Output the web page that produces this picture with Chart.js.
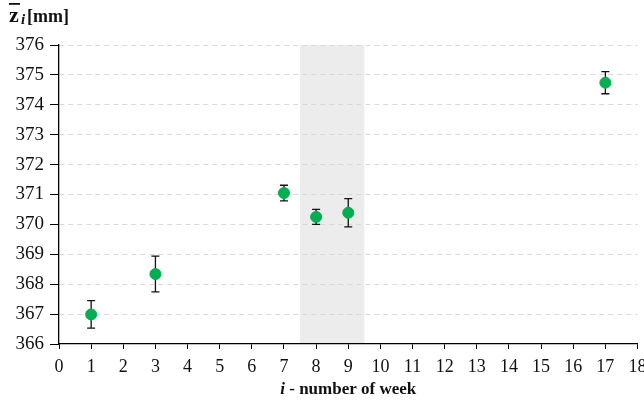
<!DOCTYPE html>
<html>
<head>
<meta charset="utf-8">
<script src="https://cdn.jsdelivr.net/npm/chart.js@4"></script>
<style>
  html, body { margin: 0; padding: 0; background: #fff; }
  #wrap { width: 644px; height: 401px; }
</style>
</head>
<body>
<div id="wrap"><canvas id="zchart" width="644" height="401"></canvas></div>
<script>
// week number and mean value with its error
var weeks = [1, 3, 7, 8, 9, 17];
var means = [366.99, 368.34, 371.05, 370.25, 370.39, 374.74];
var errors = [0.46, 0.60, 0.26, 0.25, 0.47, 0.37];
// shaded weeks
var bandFrom = 7.5;
var bandTo = 9.5;

var serif = 'Liberation Serif';
Chart.defaults.font.family = serif;

var bandPlugin = {
	id: 'band',
	beforeDraw: function(chart) {
		var ctx = chart.ctx, a = chart.chartArea, x = chart.scales.x;
		var x1 = x.getPixelForValue(bandFrom), x2 = x.getPixelForValue(bandTo);
		ctx.save();
		ctx.fillStyle = '#ececec';
		ctx.fillRect(x1, a.top, x2 - x1, a.bottom - a.top);
		ctx.restore();
	}
};

var errorPlugin = {
	id: 'errbars',
	beforeDatasetsDraw: function(chart) {
		var ctx = chart.ctx, xs = chart.scales.x, ys = chart.scales.y;
		ctx.save();
		ctx.strokeStyle = '#111';
		ctx.lineWidth = 1.3;
		for (var i = 0; i < weeks.length; i++) {
			var px = xs.getPixelForValue(weeks[i]);
			var top = ys.getPixelForValue(means[i] + errors[i]);
			var bot = ys.getPixelForValue(means[i] - errors[i]);
			ctx.beginPath();
			ctx.moveTo(px, top); ctx.lineTo(px, bot);
			ctx.moveTo(px - 4, top); ctx.lineTo(px + 4, top);
			ctx.moveTo(px - 4, bot); ctx.lineTo(px + 4, bot);
			ctx.stroke();
		}
		ctx.restore();
	}
};

var titlesPlugin = {
	id: 'titles',
	afterDraw: function(chart) {
		var ctx = chart.ctx;
		ctx.save();
		ctx.fillStyle = '#111';
		ctx.textBaseline = 'alphabetic';
		// y title: z-bar sub i [mm]
		ctx.font = 'bold 22px ' + serif;
		ctx.fillText('z', 9, 22);
		ctx.fillRect(9, 3, 11, 1.8);
		ctx.font = 'italic bold 15px ' + serif;
		ctx.fillText('i', 21, 24);
		ctx.font = 'bold 18px ' + serif;
		ctx.fillText('[mm]', 27, 22);
		// x title
		var xs = chart.scales.x;
		var cx = (xs.left + xs.right) / 2;
		ctx.font = 'italic bold 17px ' + serif;
		var w1 = ctx.measureText('i').width;
		ctx.font = 'bold 17px ' + serif;
		var rest = ' - number of week';
		var w2 = ctx.measureText(rest).width;
		var sx = cx - (w1 + w2) / 2;
		ctx.font = 'italic bold 17px ' + serif;
		ctx.fillText('i', sx, 394);
		ctx.font = 'bold 17px ' + serif;
		ctx.fillText(rest, sx + w1, 394);
		ctx.restore();
	}
};

window.onload = function() {
	var ctx = document.getElementById('zchart').getContext('2d');
	window.zchart = new Chart(ctx, {
		type: 'scatter',
		data: {
			datasets: [{
				data: weeks.map(function(w, i) { return {x: w, y: means[i]}; }),
				backgroundColor: '#00b050',
				borderColor: '#00b050',
				pointRadius: 5.5,
				pointHoverRadius: 5.5
			}]
		},
		options: {
			responsive: false,
			animation: false,
			layout: { padding: { left: 0, right: 3, top: 45, bottom: 0 } },
			plugins: { legend: { display: false }, tooltip: { enabled: false } },
			scales: {
				x: {
					type: 'linear',
					min: 0, max: 18,
					afterFit: function(s) { s.height = 57; s.paddingLeft = 0; s.paddingRight = 0; },
					ticks: { stepSize: 1, color: '#111', padding: 7, font: { family: serif, size: 18 } },
					grid: { drawOnChartArea: false, tickLength: 5, tickColor: '#000', color: '#000' },
					border: { color: '#000', width: 1.3 }
				},
				y: {
					min: 366, max: 376,
					afterFit: function(s) { s.width = 59; s.paddingTop = 0; s.paddingBottom = 0; },
					ticks: { stepSize: 1, color: '#111', padding: 6, font: { family: serif, size: 19 } },
					grid: {
						color: function(c) { return c.tick && c.tick.value === 366 ? 'rgba(0,0,0,0)' : '#d9d9d9'; },
						tickColor: '#000', tickLength: 9, lineWidth: 1
					},
					border: { color: '#000', width: 1.3, dash: [5, 4] }
				}
			}
		},
		plugins: [bandPlugin, errorPlugin, titlesPlugin]
	});
};
</script>
</body>
</html>
